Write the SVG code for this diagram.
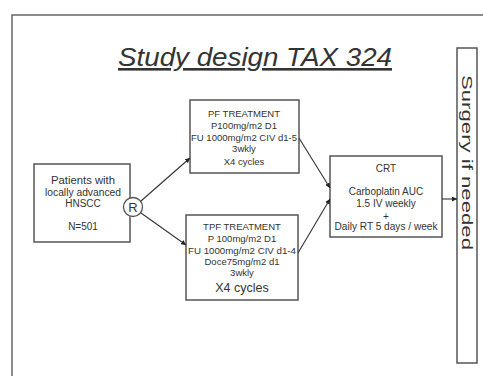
<svg xmlns="http://www.w3.org/2000/svg" width="483" height="376" viewBox="0 0 483 376">
<defs>
<marker id="ah" viewBox="0 0 10 10" refX="10" refY="5" markerWidth="5" markerHeight="5" markerUnits="userSpaceOnUse" orient="auto">
<path d="M0,0 L10,5 L0,10 z" fill="#222"/>
</marker>
</defs>
<style>
.box{fill:#fff;stroke:#555;stroke-width:1.5}
.t{font-family:"Liberation Sans",Arial,sans-serif;fill:#333;text-anchor:middle}
.s9{font-size:9.5px}
.s10{font-size:10px}
.conn line{stroke:#333;stroke-width:1.1;marker-end:url(#ah)}
</style>
<rect x="0" y="0" width="483" height="376" fill="#fff"/>
<g id="frame">
<path d="M12,376 L12,15 L483,15" fill="none" stroke="#666" stroke-width="1.5"/>
</g>
<g id="title">
<text class="t" x="255" y="66" font-size="26" font-style="italic" text-decoration="underline" textLength="274" lengthAdjust="spacingAndGlyphs" fill="#222">Study design TAX 324</text>
</g>
<g id="patients">
<rect class="box" x="34" y="164" width="96" height="78"/>
<text class="t s10" x="83" y="184" textLength="64" lengthAdjust="spacingAndGlyphs">Patients with</text>
<text class="t s10" x="83" y="196" textLength="76" lengthAdjust="spacingAndGlyphs">locally advanced</text>
<text class="t s10" x="83" y="207">HNSCC</text>
<text class="t s10" x="83" y="230">N=501</text>
</g>
<g id="randomize">
<circle cx="133" cy="207" r="9.5" fill="#fff" stroke="#555" stroke-width="1.3"/>
<text class="t" x="133" y="212" font-size="13">R</text>
</g>
<g id="pf">
<rect class="box" x="190" y="100" width="109" height="73"/>
<text class="t s9" x="244" y="117">PF TREATMENT</text>
<text class="t s9" x="244" y="129">P100mg/m2 D1</text>
<text class="t s9" x="244" y="141" textLength="106" lengthAdjust="spacingAndGlyphs">FU 1000mg/m2 CIV d1-5</text>
<text class="t s9" x="244" y="152">3wkly</text>
<text class="t s9" x="244" y="165">X4 cycles</text>
</g>
<g id="tpf">
<rect class="box" x="186" y="215" width="112" height="85"/>
<text class="t s9" x="242" y="229.5">TPF TREATMENT</text>
<text class="t s9" x="242" y="241.5">P 100mg/m2 D1</text>
<text class="t s9" x="242" y="253.5" textLength="108" lengthAdjust="spacingAndGlyphs">FU 1000mg/m2 CIV d1-4</text>
<text class="t s9" x="242" y="265">Doce75mg/m2 d1</text>
<text class="t s9" x="242" y="276">3wkly</text>
<text class="t" x="242" y="291.5" font-size="12.5">X4 cycles</text>
</g>
<g id="crt">
<rect class="box" x="330" y="156" width="112" height="81"/>
<text class="t s10" x="386" y="171.5">CRT</text>
<text class="t s10" x="386" y="194.5">Carboplatin AUC</text>
<text class="t s10" x="386" y="206.5">1.5 IV weekly</text>
<text class="t s10" x="386" y="219.5">+</text>
<text class="t s10" x="386" y="229.5" textLength="103" lengthAdjust="spacingAndGlyphs">Daily RT 5 days / week</text>
</g>
<g id="surgery">
<rect class="box" x="457" y="48" width="20" height="315"/>
<text class="t" transform="translate(461.5,162.5) rotate(90)" x="0" y="0" font-size="15" textLength="175" lengthAdjust="spacingAndGlyphs">Surgery  if needed</text>
</g>
<g class="conn" id="connectors">
<line x1="141" y1="201" x2="190" y2="158"/>
<line x1="141" y1="213" x2="186" y2="245"/>
<line x1="299" y1="138" x2="330" y2="188"/>
<line x1="298" y1="253" x2="330" y2="199"/>
<line x1="442" y1="199" x2="457" y2="199"/>
</g>
</svg>
